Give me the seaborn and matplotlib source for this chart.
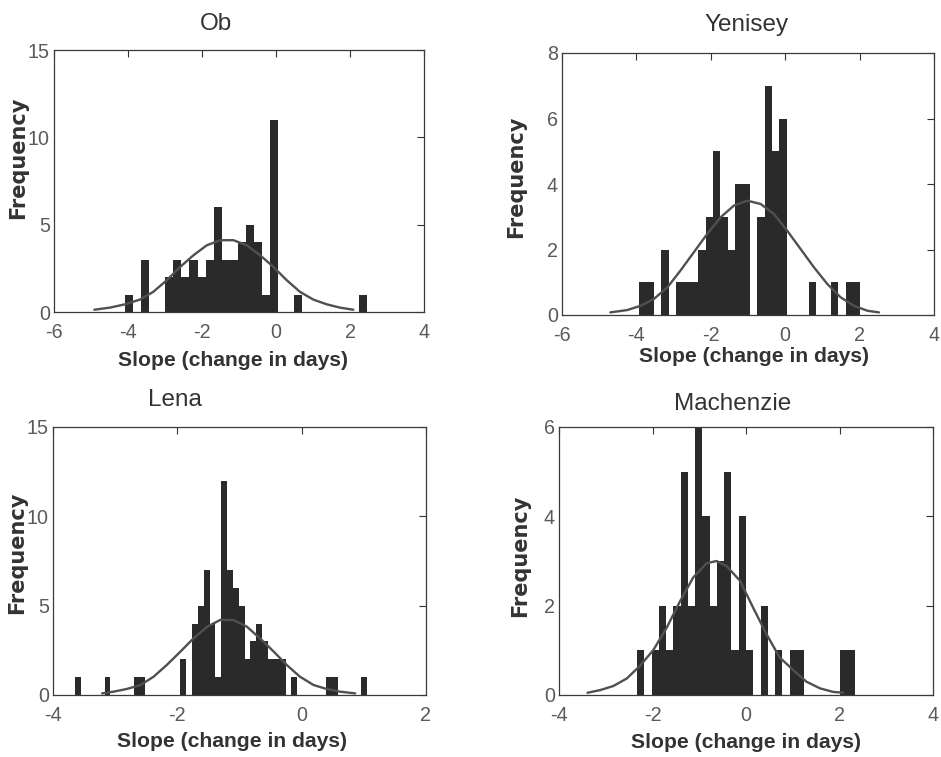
import numpy as np
import pandas as pd
import matplotlib
matplotlib.use("Agg")
import matplotlib.pyplot as plt
from matplotlib import font_manager
import seaborn as sns

# --- histogram counts (equal-width bins over each range) ---
ob_counts = [1, 0, 3, 0, 0, 2, 3, 2, 3, 2, 3, 6, 3, 3, 4, 5, 4, 1, 11, 0,
             0, 1, 0, 0, 0, 0, 0, 0, 0, 1]
ob_range = (-4.08, 2.45)
ob_fit_x = [-4.91, -4.49, -4.08, -3.68, -3.32, -2.95, -2.59, -2.23, -1.87, -1.51,
            -1.15, -0.79, -0.43, -0.07, 0.29, 0.65, 1.01, 1.37, 1.73, 2.09]
ob_fit_y = [0.13, 0.25, 0.44, 0.71, 1.15, 1.82, 2.58, 3.25, 3.82, 4.11,
            4.11, 3.82, 3.25, 2.58, 1.82, 1.15, 0.71, 0.44, 0.25, 0.13]

yen_counts = [1, 1, 0, 2, 0, 1, 1, 1, 2, 3, 5, 3, 2, 4, 4, 0, 3, 7, 5, 6,
              0, 0, 0, 1, 0, 0, 1, 0, 1, 1]
yen_range = (-3.92, 2.02)
yen_fit_x = [-4.70, -4.25, -3.89, -3.53, -3.17, -2.82, -2.46, -2.10, -1.74, -1.38, -1.02,
             -0.66, -0.30, 0.05, 0.41, 0.77, 1.13, 1.49, 1.85, 2.21, 2.52]
yen_fit_y = [0.08, 0.15, 0.28, 0.49, 0.84, 1.35, 1.91, 2.47, 2.98, 3.34, 3.49,
             3.39, 3.08, 2.58, 2.02, 1.46, 0.95, 0.54, 0.28, 0.13, 0.08]

lena_counts = [1, 0, 0, 0, 0, 1, 0, 0, 0, 0, 1, 1, 0, 0, 0, 0, 0, 0, 2, 0,
               4, 5, 7, 4, 1, 12, 7, 6, 5, 2, 3, 4, 3, 2, 2, 2, 0, 1, 0, 0,
               0, 0, 0, 1, 1, 0, 0, 0, 0, 1]
lena_range = (-3.641, 1.055)
lena_fit_x = [-3.21, -3.02, -2.81, -2.59, -2.38, -2.17, -1.95, -1.74, -1.52, -1.31,
              -1.10, -0.88, -0.67, -0.45, -0.24, -0.03, 0.19, 0.40, 0.61, 0.86]
lena_fit_y = [0.09, 0.19, 0.34, 0.56, 1.03, 1.68, 2.43, 3.17, 3.82, 4.20,
              4.20, 3.82, 3.17, 2.43, 1.68, 1.03, 0.56, 0.34, 0.19, 0.09]

mac_counts = [1, 0, 1, 2, 1, 2, 5, 2, 6, 4, 2, 3, 5, 1, 4, 1, 0, 2, 0, 1,
              0, 1, 1, 0, 0, 0, 0, 0, 1, 1]
mac_range = (-2.33, 2.33)
mac_fit_x = [-3.39, -3.12, -2.84, -2.55, -2.27, -1.98, -1.70, -1.41, -1.13, -0.84,
             -0.63, -0.42, -0.13, 0.15, 0.44, 0.72, 1.01, 1.29, 1.58, 1.86, 2.08]
mac_fit_y = [0.05, 0.11, 0.20, 0.37, 0.65, 1.01, 1.50, 2.10, 2.63, 2.95,
             3.00, 2.89, 2.56, 1.96, 1.36, 0.84, 0.56, 0.30, 0.15, 0.07, 0.05]

BAR = "#2a2a2a"
LINE = "#505050"

# the scan is squeezed sideways, so a narrow face fits best when there is one
installed = {f.name for f in font_manager.fontManager.ttflist}
if "Liberation Sans Narrow" in installed:
    FONT, SCALE = "Liberation Sans Narrow", 1.0
else:
    FONT, SCALE = "Liberation Sans", 0.92

sns.set_theme(style="white")
plt.rcParams["font.family"] = [FONT, "DejaVu Sans"]
plt.rcParams["axes.unicode_minus"] = False

W, H = 941, 757
fig = plt.figure(figsize=(W / 100, H / 100), dpi=100)


def px_axes(left, top, right, bottom):
    return fig.add_axes([left / W, 1 - bottom / H, (right - left) / W, (bottom - top) / H])


def draw_panel(ax, counts, rng, fit_x, fit_y, title, xlim, xticks, ylim, yticks,
               title_xy, ylab_xy, xlab_xy):
    nbins = len(counts)
    edges = np.linspace(rng[0], rng[1], nbins + 1)
    df = pd.DataFrame({"slope": (edges[:-1] + edges[1:]) / 2, "n": counts})
    sns.histplot(data=df, x="slope", weights="n", bins=nbins, binrange=rng, ax=ax,
                 color=BAR, alpha=1, linewidth=0)
    fit = pd.DataFrame({"x": fit_x, "y": fit_y})
    sns.lineplot(data=fit, x="x", y="y", ax=ax, color=LINE, linewidth=1.7, estimator=None)

    ax.set_xlim(xlim)
    ax.set_ylim(ylim)
    ax.set_xticks(xticks)
    ax.set_yticks(yticks)
    ax.tick_params(direction="in", top=True, right=True, length=5, width=0.8,
                   color="#333333", labelcolor="#5a5a5a", labelsize=15.5 * SCALE)
    ax.tick_params(axis="x", pad=8)
    ax.tick_params(axis="y", pad=3)
    for s in ax.spines.values():
        s.set_color("#3a3a3a")
        s.set_linewidth(0.9)

    ax.set_ylabel("Frequency", fontsize=15, fontweight="bold", family="DejaVu Sans",
                  color="#333333")
    ax.yaxis.label.set_va("center")
    ax.yaxis.set_label_coords(*ylab_xy)
    ax.set_xlabel("Slope (change in days)", fontsize=16.5 * SCALE, fontweight="bold",
                  color="#333333")
    ax.xaxis.label.set_va("center")
    ax.xaxis.set_label_coords(*xlab_xy)
    ax.text(title_xy[0], title_xy[1], title, transform=ax.transAxes, ha="center",
            va="center", fontsize=19 * SCALE, color="#333333")


ax1 = px_axes(54, 50, 424, 312)
draw_panel(ax1, ob_counts, ob_range, ob_fit_x, ob_fit_y, "Ob",
           (-6, 4), [-6, -4, -2, 0, 2, 4], (0, 15), [0, 5, 10, 15],
           (0.437, 1.099), (-0.097, 0.588), (0.484, -0.187))

ax2 = px_axes(562, 53, 934, 315)
draw_panel(ax2, yen_counts, yen_range, yen_fit_x, yen_fit_y, "Yenisey",
           (-6, 4), [-6, -4, -2, 0, 2, 4], (0, 8), [0, 2, 4, 6, 8],
           (0.495, 1.107), (-0.124, 0.527), (0.516, -0.16))

ax3 = px_axes(53, 427, 426, 695)
draw_panel(ax3, lena_counts, lena_range, lena_fit_x, lena_fit_y, "Lena",
           (-4, 2), [-4, -2, 0, 2], (0, 15), [0, 5, 10, 15],
           (0.327, 1.10), (-0.095, 0.53), (0.479, -0.175))

ax4 = px_axes(559, 427, 933, 695)
draw_panel(ax4, mac_counts, mac_range, mac_fit_x, mac_fit_y, "Machenzie",
           (-4, 4), [-4, -2, 0, 2, 4], (0, 6), [0, 2, 4, 6],
           (0.463, 1.086), (-0.104, 0.52), (0.5, -0.179))

fig.savefig("out.png", dpi=100)
